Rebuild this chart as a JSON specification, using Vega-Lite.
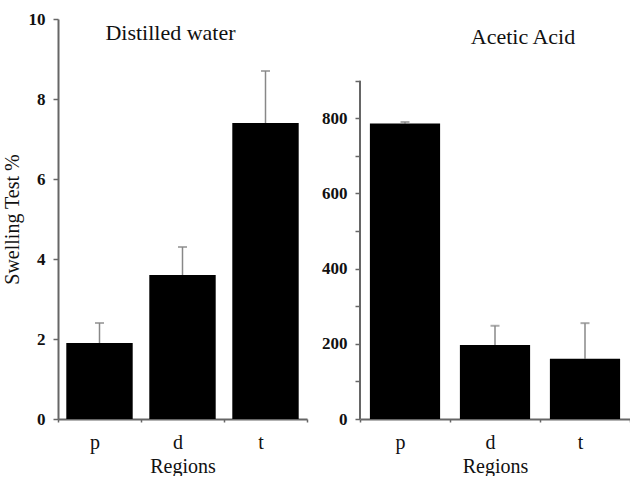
{
  "$schema": "https://vega.github.io/schema/vega-lite/v6.json",
  "bounds": "flush",
  "spacing": 53,
  "padding": {"left": 2, "top": 10, "right": 0, "bottom": 0},
  "background": "white",
  "datasets": {
    "water": [
      {"region": "p", "value": 1.9, "upper": 2.4},
      {"region": "d", "value": 3.6, "upper": 4.3},
      {"region": "t", "value": 7.4, "upper": 8.7}
    ],
    "acid": [
      {"region": "p", "value": 786, "upper": 790},
      {"region": "d", "value": 197, "upper": 248},
      {"region": "t", "value": 160, "upper": 255}
    ],
    "acidAxis": [{"lo": 0, "hi": 900}],
    "waterTitle": [{"region": "d", "y": 9.65, "label": "Distilled water"}],
    "acidTitle": [{"region": "d", "y": 1016, "label": "Acetic Acid"}]
  },
  "config": {
    "font": "Times New Roman, Liberation Serif, serif",
    "view": {"stroke": null},
    "axis": {
      "grid": false,
      "domainColor": "#666",
      "domainWidth": 2,
      "tickColor": "#666",
      "tickWidth": 1.5,
      "labelFont": "Times New Roman, Liberation Serif, serif",
      "titleFont": "Times New Roman, Liberation Serif, serif",
      "titleFontWeight": "normal",
      "labelColor": "#111",
      "titleColor": "#111"
    },
    "axisY": {"labelFontWeight": "bold", "labelFontSize": 17, "tickSize": 5, "labelPadding": 8},
    "axisX": {"labelFontSize": 20, "labelAngle": 0, "labelOffset": -5, "tickSize": 3, "tickBand": "extent", "labelPadding": 10, "titleFontSize": 20, "titlePadding": 4},
    "text": {"font": "Times New Roman, Liberation Serif, serif", "fontSize": 22, "color": "#111"}
  },
  "hconcat": [
    {
      "width": 249,
      "height": 400,
      "encoding": {
        "x": {"field": "region", "type": "nominal", "sort": ["p", "d", "t"], "title": "Regions", "scale": {"paddingInner": 0, "paddingOuter": 0}}
      },
      "layer": [
        {
          "data": {"name": "water"},
          "mark": {"type": "rule", "color": "#888", "strokeWidth": 1.5},
          "encoding": {
            "y": {"field": "value", "type": "quantitative"},
            "y2": {"field": "upper"}
          }
        },
        {
          "data": {"name": "water"},
          "mark": {"type": "tick", "color": "#888", "thickness": 2, "size": 9, "orient": "horizontal"},
          "encoding": {"y": {"field": "upper", "type": "quantitative"}}
        },
        {
          "data": {"name": "water"},
          "mark": {"type": "bar", "color": "black", "width": {"band": 0.8}},
          "encoding": {
            "y": {"field": "value", "type": "quantitative", "title": "Swelling Test %",
              "scale": {"domain": [0, 10], "nice": false},
              "axis": {"values": [0,1,2,3,4,5,6,7,8,9,10], "labelExpr": "datum.value % 2 == 0 ? datum.label : ''", "titleFontSize": 20, "titlePadding": 6}}
          }
        },
        {
          "data": {"name": "waterTitle"},
          "mark": {"type": "text", "dx": -12, "baseline": "middle"},
          "encoding": {
            "y": {"field": "y", "type": "quantitative"},
            "text": {"field": "label"}
          }
        }
      ]
    },
    {
      "width": 270,
      "height": 400,
      "encoding": {
        "x": {"field": "region", "type": "nominal", "sort": ["p", "d", "t"], "title": "Regions", "scale": {"paddingInner": 0, "paddingOuter": 0}}
      },
      "layer": [
        {
          "data": {"name": "acid"},
          "mark": {"type": "rule", "color": "#888", "strokeWidth": 1.5},
          "encoding": {
            "y": {"field": "value", "type": "quantitative"},
            "y2": {"field": "upper"}
          }
        },
        {
          "data": {"name": "acid"},
          "mark": {"type": "tick", "color": "#888", "thickness": 2, "size": 9, "orient": "horizontal"},
          "encoding": {"y": {"field": "upper", "type": "quantitative"}}
        },
        {
          "data": {"name": "acid"},
          "mark": {"type": "bar", "color": "black", "width": {"band": 0.78}},
          "encoding": {
            "y": {"field": "value", "type": "quantitative", "title": null,
              "scale": {"domain": [0, 1064], "nice": false},
              "axis": {"domain": false, "values": [0,100,200,300,400,500,600,700,800,900], "labelExpr": "datum.value % 200 == 0 ? datum.label : ''"}}
          }
        },
        {
          "data": {"name": "acidAxis"},
          "mark": {"type": "rule", "color": "#666", "strokeWidth": 2},
          "encoding": {
            "x": {"datum": "p", "type": "nominal", "bandPosition": 0},
            "y": {"field": "lo", "type": "quantitative"},
            "y2": {"field": "hi"}
          }
        },
        {
          "data": {"name": "acidTitle"},
          "mark": {"type": "text", "dx": 28, "baseline": "middle"},
          "encoding": {
            "y": {"field": "y", "type": "quantitative"},
            "text": {"field": "label"}
          }
        }
      ]
    }
  ]
}
